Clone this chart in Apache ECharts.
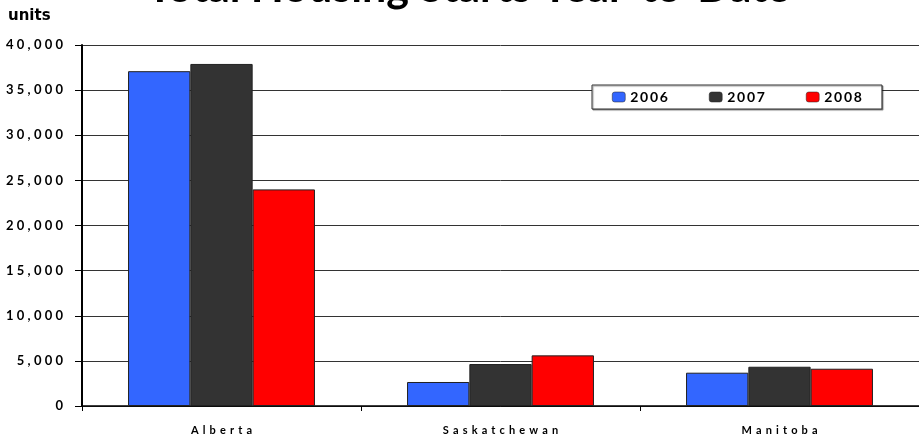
<!DOCTYPE html>
<html><head><meta charset="utf-8">
<script src="https://cdn.jsdelivr.net/npm/echarts@6/dist/echarts.min.js"></script>
<style>html,body{margin:0;padding:0;background:#fff}#c{width:919px;height:438px}</style>
</head><body><div id="c"></div>
<script>
const categories = ['Alberta', 'Saskatchewan', 'Manitoba'];
const seriesNames = ['2006', '2007', '2008'];
const values2006 = [37100, 2660, 3690];
const values2007 = [37900, 4650, 4350];
const values2008 = [24000, 5610, 4130];
const colors = ['#3366FF', '#333333', '#FF0000'];

const sp = (s, k) => String(s).split('').join('\u2009'.repeat(k));
const FONT = 'Lato';
const chart = echarts.init(document.getElementById('c'), null, {renderer: 'canvas'});
const data = [values2006, values2007, values2008];
chart.setOption({
  animation: false,
  title: {text: 'Total Housing Starts Year-to-Date', left: 142, top: -38,
    textStyle: {fontFamily: FONT, fontWeight: 'bold', fontSize: 43, color: '#000'}},
  graphic: [{type: 'text', left: 8, top: 9, style: {text: 'units', font: 'bold 15px "DejaVu Sans"', fill: '#000'}}],
  legend: {data: seriesNames, left: 592, top: 85, padding: [5, 20, 5, 20], itemGap: 41,
    itemWidth: 13, itemHeight: 10, backgroundColor: '#fff', borderColor: '#333', borderWidth: 1,
    shadowColor: 'rgba(0,0,0,0.4)', shadowOffsetX: 1, shadowOffsetY: 1, shadowBlur: 1,
    formatter: n => sp(n, 1), itemStyle: {borderColor: '#222', borderWidth: 0.5},
    textStyle: {fontFamily: FONT, fontWeight: 'bold', fontSize: 14, color: '#000'}},
  grid: {left: 82, top: 45, bottom: 32, right: -6, containLabel: false},
  xAxis: {type: 'category', data: categories,
    axisLine: {lineStyle: {color: '#000', width: 1.5}},
    axisTick: {show: true, length: 5, alignWithLabel: false, lineStyle: {color: '#000'}},
    axisLabel: {margin: 19, fontFamily: FONT, fontWeight: 'bold', fontSize: 11, color: '#000', formatter: v => sp(v, 3)}},
  yAxis: {type: 'value', min: 0, max: 40000, interval: 5000,
    axisLine: {show: true, lineStyle: {color: '#000', width: 2}},
    axisTick: {show: true, length: 7, lineStyle: {color: '#000'}},
    splitLine: {lineStyle: {color: '#333', width: 1}},
    axisLabel: {margin: 19, fontFamily: FONT, fontWeight: 'bold', fontSize: 13, color: '#000',
      formatter: v => sp(v.toLocaleString('en-US'), 2)}},
  series: seriesNames.map((n, i) => ({
    name: n, type: 'bar', data: data[i], barCategoryGap: '33%', barGap: '0%',
    itemStyle: {color: colors[i], borderColor: '#222', borderWidth: 1}
  }))
});
</script></body></html>
